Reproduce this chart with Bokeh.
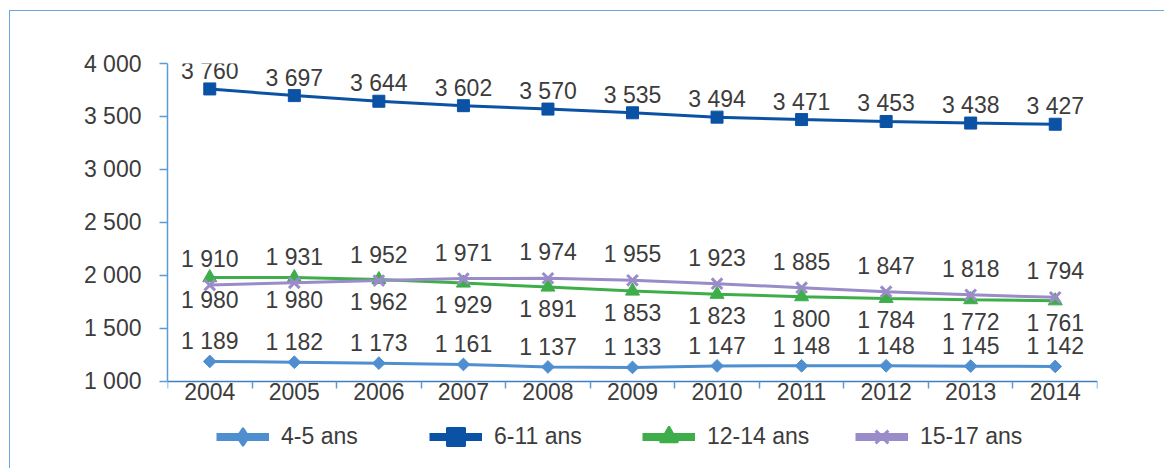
import math
from bokeh.plotting import figure
from bokeh.models import Range1d, FixedTicker, Legend, LegendItem
from bokeh.core.properties import value
from bokeh.embed import file_html
from bokeh.resources import INLINE

years = ["2004", "2005", "2006", "2007", "2008", "2009", "2010", "2011", "2012", "2013", "2014"]
s_4_5 = [1189, 1182, 1173, 1161, 1137, 1133, 1147, 1148, 1148, 1145, 1142]
s_6_11 = [3760, 3697, 3644, 3602, 3570, 3535, 3494, 3471, 3453, 3438, 3427]
s_12_14 = [1980, 1980, 1962, 1929, 1891, 1853, 1823, 1800, 1784, 1772, 1761]
s_15_17 = [1910, 1931, 1952, 1971, 1974, 1955, 1923, 1885, 1847, 1818, 1794]
series_names = ["4-5 ans", "6-11 ans", "12-14 ans", "15-17 ans"]
y_ticks = [1000, 1500, 2000, 2500, 3000, 3500, 4000]

C45 = "#4F8FD0"
C611 = "#0B52A5"
C1214 = "#3DAE49"
C1517 = "#9A8CC8"
TXT = "#3c3c3c"
FONT = value("Liberation Sans")
FS = "23px"


def fmt(v):
    return f"{v:,}".replace(",", " ")


xs = [i + 0.5 for i in range(len(years))]
y_min, y_max = y_ticks[0], y_ticks[-1]

p = figure(width=1155, height=458, output_backend="svg", toolbar_location=None,
           x_range=Range1d(0, len(years)), y_range=Range1d(207.5, y_max),
           min_border_left=157, min_border_right=68, min_border_top=52, min_border_bottom=4)
p.styles = {"border-top": "1px solid #6AA6DA", "border-left": "1px solid #6AA6DA",
            "margin-left": "9px", "margin-top": "10px"}
p.outline_line_color = None
p.grid.grid_line_color = None
p.background_fill_color = "white"

# y axis
ya = p.yaxis[0]
ya.bounds = (y_min, y_max)
ya.ticker = FixedTicker(ticks=y_ticks, minor_ticks=[])
ya.major_label_overrides = {t: fmt(t) for t in y_ticks}
ya.axis_line_color = "#5B9BD5"
ya.axis_line_width = 1.5
ya.major_tick_line_color = "#5B9BD5"
ya.major_tick_line_width = 1.5
ya.major_tick_out = 8
ya.major_tick_in = 0
ya.minor_tick_line_color = None
ya.major_label_standoff = 18
ya.major_label_text_font = "Liberation Sans"
ya.major_label_text_font_size = FS
ya.major_label_text_color = TXT

# x axis, drawn at y = 1000
xa = p.xaxis[0]
xa.fixed_location = y_min
xa.ticker = FixedTicker(ticks=xs, minor_ticks=list(range(len(years) + 1)))
xa.major_label_overrides = {x: y for x, y in zip(xs, years)}
xa.axis_line_color = "#3F7FC1"
xa.axis_line_width = 1.5
xa.major_tick_line_color = None
xa.major_tick_out = 0
xa.major_tick_in = 0
xa.minor_tick_line_color = "#5B9BD5"
xa.minor_tick_line_width = 1.5
xa.minor_tick_out = 7
xa.minor_tick_in = 0
xa.major_label_standoff = -5
xa.major_label_text_font = "Liberation Sans"
xa.major_label_text_font_size = FS
xa.major_label_text_color = TXT

# series
p.line(xs, s_4_5, line_color=C45, line_width=3)
p.scatter(xs, s_4_5, marker="square", angle=math.pi / 4, size=9, fill_color=C45, line_color=C45)

p.line(xs, s_6_11, line_color=C611, line_width=3)
p.scatter(xs, s_6_11, marker="square", size=12, fill_color=C611, line_color=C611)

p.line(xs, s_12_14, line_color=C1214, line_width=3)
p.scatter(xs, s_12_14, marker="triangle", size=14, fill_color=C1214, line_color=C1214)

p.line(xs, s_15_17, line_color=C1517, line_width=3)
p.scatter(xs, s_15_17, marker="x", size=15, line_color=C1517, line_width=3)


# data labels
def labels(vals, dy):
    p.text(xs, vals, text=[fmt(v) for v in vals], y_offset=dy,
           text_align="center", text_baseline="middle",
           text_font=FONT, text_font_size=FS, text_color=TXT)


labels(s_6_11, -18)
labels(s_4_5, -20)
labels(s_15_17, -26)
labels(s_12_14, 22)

# legend: hidden renderers (thicker lines) used only for the legend glyphs
items = []
for name, vals, col, mk in [
    (series_names[0], s_4_5, C45, "diamond"),
    (series_names[1], s_6_11, C611, "square"),
    (series_names[2], s_12_14, C1214, "triangle"),
    (series_names[3], s_15_17, C1517, "x"),
]:
    lr = p.line(xs, vals, line_color=col, line_width=8, visible=False)
    if mk == "x":
        sr = p.scatter(xs, vals, marker=mk, line_color=col, line_width=3, visible=False)
    else:
        sr = p.scatter(xs, vals, marker=mk, fill_color=col, line_color=col, line_width=2, visible=False)
    items.append(LegendItem(label=name, renderers=[lr, sr]))

legend = Legend(items=items, orientation="horizontal", location=(49, 6),
                glyph_width=53, glyph_height=45, label_standoff=12, label_width=148,
                spacing=0, padding=0, margin=0,
                border_line_color=None, background_fill_alpha=0,
                label_text_font="Liberation Sans", label_text_font_size=FS,
                label_text_color=TXT)
p.add_layout(legend, "center")

open("out.html", "w").write(file_html(p, INLINE))
